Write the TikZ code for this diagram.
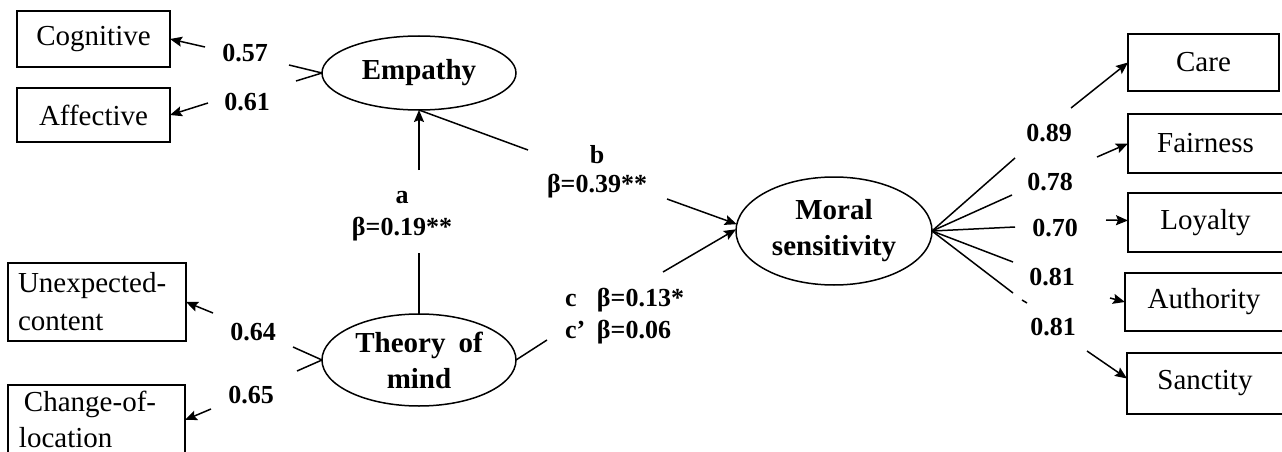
\documentclass[tikz,border=0pt]{standalone}
\usepackage{fontspec}
\setmainfont{Liberation Serif}
\usetikzlibrary{arrows.meta,shapes.geometric}
\begin{document}
\begin{tikzpicture}[x=1pt,y=-1pt,
  every node/.style={inner sep=0pt, outer sep=0pt},
  conn/.style={line width=1.5pt},
  arr/.style={conn,-{Stealth[length=12pt,width=10pt,inset=2pt]}},
  box/.style={draw, line width=1.5pt, font=\fontsize{29}{38}\selectfont},
  latent/.style={draw, ellipse, line width=1.5pt, align=center, font=\bfseries\fontsize{29}{36}\selectfont},
  lab/.style={font=\bfseries\fontsize{26}{30}\selectfont}]
\useasboundingbox (0,0) rectangle (1282,452);
\clip (0,0) rectangle (1282,452);

% indicator boxes (left)
\node[box, minimum width=153pt, minimum height=56pt] (cog) at (93.5,39) {Cognitive};
\node[box, minimum width=153pt, minimum height=54pt] (aff) at (93.5,115) {Affective};
\node[box, minimum width=178pt, minimum height=78pt, align=left, text width=158pt] (une) at (97,302) {Unexpected-\\content};
\node[box, minimum width=177pt, minimum height=68pt, align=left, text width=155pt, font=\fontsize{29}{36}\selectfont] (chg) at (96.5,419) {\hspace*{5pt}Change-of-\\location};

% latent variables
\node[latent, minimum width=194pt, minimum height=74pt] (emp) at (419,73) {Empathy};
\node[latent, minimum width=194pt, minimum height=92pt] (tom) at (419,360) {Theory\hspace{0.45em}of\\mind};
\node[latent, minimum width=196pt, minimum height=108pt] (mor) at (834,231) {Moral\\sensitivity};

% indicator boxes (right)
\node[box, minimum width=151pt, minimum height=57pt] (care) at (1203.5,62.5) {Care};
\node[box, minimum width=155pt, minimum height=59pt] (fair) at (1205.5,143.5) {Fairness};
\node[box, minimum width=155pt, minimum height=59pt] (loy) at (1205.5,222.5) {Loyalty};
\node[box, minimum width=158pt, minimum height=58pt] (auth) at (1204,302) {Authority};
\node[box, minimum width=156pt, minimum height=61pt] (sanc) at (1205,383.5) {Sanctity};

% labels
\node[lab] (l57) at (245,53) {0.57};
\node[lab] (l61) at (247,102) {0.61};
\node[lab] (l64) at (253,332) {0.64};
\node[lab] (l65) at (251,395) {0.65};
\node[lab] (la) at (402,198) {a};
\node[lab] (laa) at (402,229) {β=0.19**};
\node[lab] (lb) at (597,155) {b};
\node[lab] (lbb) at (597,186) {β=0.39**};
\node[lab, anchor=base west] (lc) at (565,306) {\makebox[32pt][l]{c}β=0.13*};
\node[lab, anchor=base west] (lc2) at (565,338) {\makebox[32pt][l]{c’}β=0.06};
\node[lab] (l89) at (1049,133) {0.89};
\node[lab] (l78) at (1050,182) {0.78};
\node[lab] (l70) at (1055,228) {0.70};
\node[lab] (l81a) at (1052,277) {0.81};
\node[lab] (l81b) at (1053,327) {0.81};

% free ends of broken connectors
\coordinate (s57) at (289,65);
\coordinate (s61) at (296,81);
\coordinate (t57) at (205,47);
\coordinate (t61) at (208,103);
\coordinate (s64) at (293,347);
\coordinate (s65) at (297,371);
\coordinate (t64) at (213,313);
\coordinate (t65) at (211,409);
\coordinate (sa) at (419,253);
\coordinate (ta) at (419,170);
\coordinate (sb) at (528,150);
\coordinate (tb) at (667,199);
\coordinate (sc) at (547,340);
\coordinate (tc) at (663,272);
\coordinate (m1) at (1015,158);
\coordinate (m2) at (1012,195);
\coordinate (m3) at (1015,227);
\coordinate (m4) at (1013,262);
\coordinate (m5) at (1013,293);
\coordinate (d1) at (1022,300);
\coordinate (d2) at (1027,303);
\coordinate (r1) at (1071,108);
\coordinate (r2) at (1097,157);
\coordinate (r3) at (1106,220);
\coordinate (r4) at (1110,298);
\coordinate (r5) at (1087,351);

% empathy indicators
\draw[conn] (emp.west) -- (s57);
\draw[conn] (emp.west) -- (s61);
\draw[arr] (t57) -- (cog.east);
\draw[arr] (t61) -- (aff.east);

% theory of mind indicators
\draw[conn] (tom.west) -- (s64);
\draw[conn] (tom.west) -- (s65);
\draw[arr] (t64) -- (une.east);
\draw[arr] (t65) -- ([yshift=-1pt]chg.east);

% paths a, b, c
\draw[conn] (tom.north) -- (sa);
\draw[arr] (ta) -- (emp.south);
\draw[conn] (emp.south) -- (sb);
\draw[arr] (tb) -- (mor.176);
\draw[conn] (tom.east) -- (sc);
\draw[arr] (tc) -- (mor.179);

% moral sensitivity indicators
\draw[conn] (mor.east) -- (m1);
\draw[conn] (mor.east) -- (m2);
\draw[conn] (mor.east) -- (m3);
\draw[conn] (mor.east) -- (m4);
\draw[conn] (mor.east) -- (m5);
\draw[conn] (d1) -- (d2);
\draw[arr] (r1) -- (care.west);
\draw[arr] (r2) -- (fair.west);
\draw[arr] (r3) -- ([yshift=2pt]loy.west);
\draw[arr] (r4) -- (auth.west);
\draw[arr] (r5) -- ([yshift=5pt]sanc.west);
\end{tikzpicture}
\end{document}
